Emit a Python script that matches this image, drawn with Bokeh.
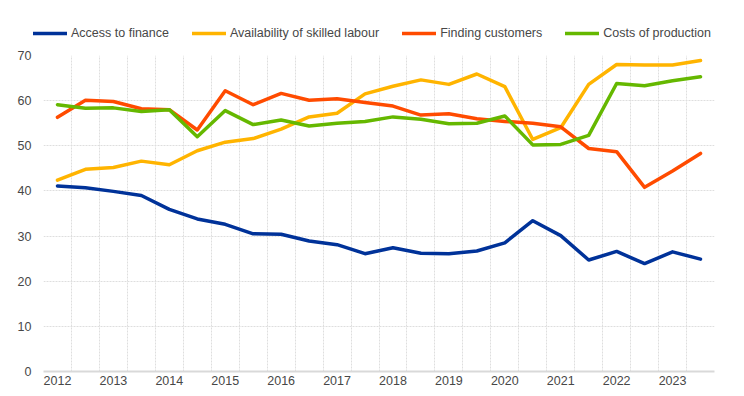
from bokeh.plotting import figure
from bokeh.layouts import column
from bokeh.models import Range1d, FixedTicker, Legend, LegendItem, Grid
from bokeh.embed import file_html
from bokeh.resources import INLINE

periods = [2012.0, 2012.5, 2013.0, 2013.5, 2014.0, 2014.5, 2015.0, 2015.5,
           2016.0, 2016.5, 2017.0, 2017.5, 2018.0, 2018.5, 2019.0, 2019.5,
           2020.0, 2020.5, 2021.0, 2021.5, 2022.0, 2022.5, 2023.0, 2023.5]

access_to_finance = [41.1, 40.7, 39.9, 39.0, 35.9, 33.8, 32.6, 30.5, 30.4, 28.9, 28.1, 26.1,
                     27.4, 26.2, 26.1, 26.7, 28.5, 33.4, 30.1, 24.7, 26.6, 23.9, 26.5, 24.9]
skilled_labour = [42.4, 44.8, 45.2, 46.6, 45.8, 48.9, 50.8, 51.6, 53.7, 56.4, 57.2, 61.5,
                  63.2, 64.6, 63.6, 65.9, 63.1, 51.4, 54.0, 63.6, 68.0, 67.9, 67.9, 68.9]
finding_customers = [56.3, 60.1, 59.8, 58.2, 58.0, 53.5, 62.2, 59.1, 61.6, 60.1, 60.4, 59.6,
                     58.8, 56.8, 57.1, 56.0, 55.4, 55.0, 54.2, 49.4, 48.7, 40.8, 44.4, 48.3]
costs_of_production = [59.1, 58.3, 58.4, 57.6, 58.0, 52.0, 57.8, 54.7, 55.7, 54.4, 55.0, 55.4,
                       56.4, 55.9, 54.9, 55.0, 56.6, 50.2, 50.3, 52.3, 63.8, 63.3, 64.4, 65.3]

series_names = ["Access to finance", "Availability of skilled labour",
                "Finding customers", "Costs of production"]
series_values = [access_to_finance, skilled_labour, finding_customers, costs_of_production]
series_colors = ["#003299", "#FFB400", "#FF4B00", "#65B800"]

year_ticks = [2012, 2013, 2014, 2015, 2016, 2017, 2018, 2019, 2020, 2021, 2022, 2023]
y_ticks = [0, 10, 20, 30, 40, 50, 60, 70]

FONT = "Liberation Sans"
TXT = "#474747"
FS = "12.5px"
LINE_W = 3.5

# ---- main chart ----
p = figure(frame_width=671, frame_height=316, output_backend="svg", toolbar_location=None,
           x_range=Range1d(2011.75, 2023.75), y_range=Range1d(0, 70),
           min_border_left=43, min_border_right=22, min_border_top=11, min_border_bottom=18)
p.outline_line_color = None
p.background_fill_color = "white"
p.border_fill_color = "white"

for vals, col in zip(series_values, series_colors):
    p.line(periods, vals, line_color=col, line_width=LINE_W, line_join="round", line_cap="round")

p.xaxis.ticker = FixedTicker(ticks=year_ticks)
p.xaxis.major_tick_line_color = None
p.xaxis.major_tick_out = 0
p.xaxis.major_tick_in = 0
p.xaxis.minor_tick_line_color = None
p.xaxis.axis_line_color = "#d9d9d9"
p.xaxis.axis_line_width = 2
p.xaxis.major_label_text_font = FONT
p.xaxis.major_label_text_font_size = FS
p.xaxis.major_label_text_color = TXT
p.xaxis.major_label_standoff = 4

p.yaxis.ticker = FixedTicker(ticks=y_ticks)
p.yaxis.major_tick_line_color = None
p.yaxis.major_tick_out = 0
p.yaxis.major_tick_in = 0
p.yaxis.minor_tick_line_color = None
p.yaxis.axis_line_color = None
p.yaxis.major_label_text_font = FONT
p.yaxis.major_label_text_font_size = FS
p.yaxis.major_label_text_color = TXT
p.yaxis.major_label_standoff = 12

p.xgrid.visible = False
p.ygrid.grid_line_color = "#dedede"
p.ygrid.grid_line_dash = "2 1"
boundaries = [y - 0.25 for y in periods] + [periods[-1] + 0.25]
vgrid = Grid(dimension=0, ticker=FixedTicker(ticks=boundaries),
             grid_line_color="#dedede", grid_line_dash="2 1")
p.add_layout(vgrid)

# ---- legend strip ----
lg = figure(frame_width=736, frame_height=44, output_backend="svg", toolbar_location=None,
            x_axis_type=None, y_axis_type=None,
            x_range=Range1d(0, 1), y_range=Range1d(0, 1),
            min_border_left=0, min_border_right=0, min_border_top=0, min_border_bottom=0)
lg.outline_line_color = None
lg.grid.visible = False
items = []
for name, col in zip(series_names, series_colors):
    # swatch-only renderer, placed outside the visible range
    r = lg.line(x=[-5, -4], y=[-5, -4], line_color=col, line_width=LINE_W, line_cap="round")
    items.append(LegendItem(label=name, renderers=[r]))

legend = Legend(items=items, orientation="horizontal", location=(33, 4),
                glyph_width=34, glyph_height=14, label_height=14, label_standoff=4,
                spacing=23, padding=0, margin=0,
                label_text_font=FONT, label_text_font_size=FS, label_text_color=TXT,
                border_line_color=None, background_fill_alpha=0)
lg.add_layout(legend, "center")

layout = column(lg, p, spacing=0)
open("out.html", "w").write(file_html(layout, INLINE))
